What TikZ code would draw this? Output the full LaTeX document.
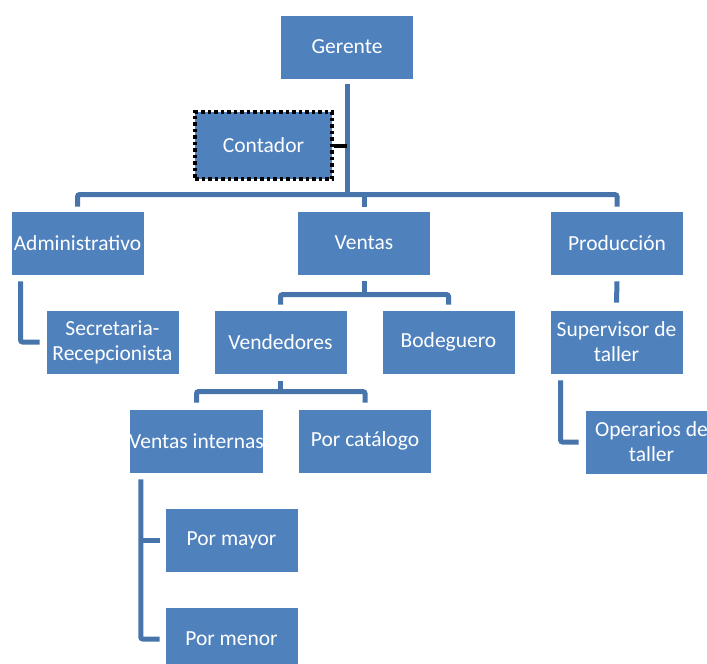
\documentclass[tikz,border=0pt]{standalone}
\usepackage{fontspec}
\setmainfont{Carlito}
\usetikzlibrary{calc}
\definecolor{boxblue}{HTML}{4F81BD}
\definecolor{lineblue}{HTML}{4674AB}
\tikzset{
  orgbox/.style={rectangle, fill=boxblue, draw=white, line width=0.8pt,
    minimum width=133pt, minimum height=64pt, inner sep=0pt,
    text=white, align=center, font=\fontsize{21.5}{25}\selectfont},
  conn/.style={draw=lineblue, line width=5pt, rounded corners=2pt},
  dotbox/.style={orgbox, draw=black, line width=4pt, dash pattern=on 3.5pt off 3pt,
    minimum width=137pt, minimum height=67pt},
  sideconn/.style={draw=black, line width=4pt}
}
\begin{document}
\begin{tikzpicture}[x=1pt, y=-1pt]
\useasboundingbox (0,0) rectangle (707,664);
\clip (0,0) rectangle (707,664);

% boxes
\node[orgbox] (gerente)    at (347,47)    {Gerente};
\node[dotbox] (contador)   at (263.5,145.5) {Contador};
\node[orgbox] (admin)      at (77.5,243)  {Administrativo};
\node[orgbox] (ventas)     at (364,243)   {Ventas};
\node[orgbox] (produccion) at (617,243)   {Producción};
\node[orgbox] (secretaria) at (112.5,342) {Secretaria-\\Recepcionista};
\node[orgbox] (vendedores) at (280.5,342) {Vendedores};
\node[orgbox] (bodeguero)  at (448.5,342) {Bodeguero};
\node[orgbox] (supervisor) at (616.5,342) {Supervisor de\\taller};
\node[orgbox] (internas)   at (196.5,441) {Ventas internas};
\node[orgbox] (catalogo)   at (365,441)   {Por catálogo};
\node[orgbox] (mayor)      at (231.5,540) {Por mayor};
\node[orgbox] (menor)      at (231.5,639) {Por menor};
\node[orgbox] (operarios)  at (651.5,442) {Operarios de\\taller};

% top level
\coordinate (trunk) at ($(gerente.south)+(0,115)$);
\draw[conn] ($(gerente.south)+(0,5)$) -- (trunk);
\draw[conn] ($(admin.north)+(0,-4)$) -- ++(0,-12) -| ($(produccion.north)+(0,-4)$);
\draw[conn] ($(ventas.north)+(0,-4)$) -- ++(0,-12);
\draw[sideconn] (contador.east) -- (contador.east -| trunk);

% Administrativo
\draw[conn] ($(admin.south west)+(10,6)$) |- ($(secretaria.west)+(-6,0)$);

% Ventas
\draw[conn] ($(ventas.south)+(0,6)$) -- ++(0,13);
\draw[conn] ($(vendedores.north)+(0,-5)$) -- ++(0,-10) -| ($(bodeguero.north)+(0,-5)$);

% Vendedores
\draw[conn] ($(vendedores.south)+(0,7)$) -- ++(0,11);
\draw[conn] ($(internas.north)+(0,-6)$) -- ++(0,-11) -| ($(catalogo.north)+(0,-6)$);

% Ventas internas
\coordinate (vspine) at ($(internas.south west)+(12,6)$);
\draw[conn] (vspine) |- ($(menor.west)+(-5,0)$);
\draw[conn] (vspine |- mayor.west) -- ($(mayor.west)+(-5,0)$);

% Produccion
\draw[conn] ($(produccion.south)+(0,6)$) -- ($(supervisor.north)+(0,-7)$);
\draw[conn] ($(supervisor.south west)+(11,6)$) |- ($(operarios.west)+(-6,0)$);
\end{tikzpicture}
\end{document}
